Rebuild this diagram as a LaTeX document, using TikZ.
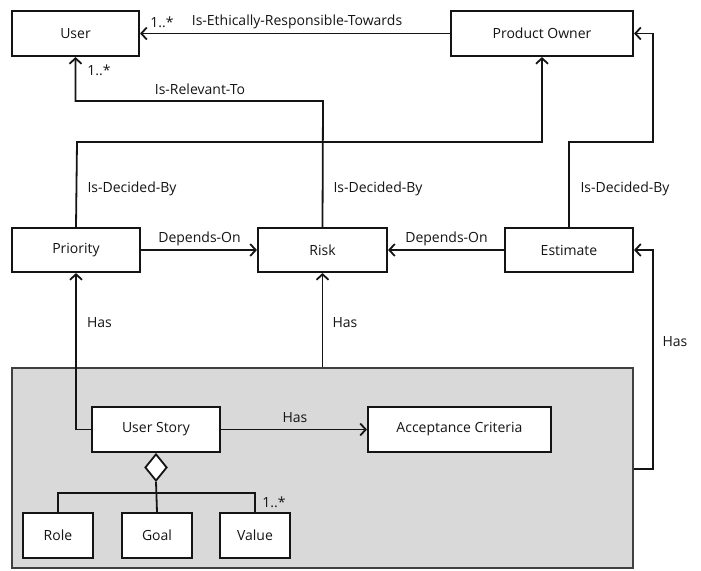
\documentclass[tikz,border=0pt]{standalone}
\usepackage{fontspec}
\setmainfont{Open Sans}
\usetikzlibrary{arrows.meta,shapes.geometric}
\begin{document}
\begin{tikzpicture}[x=1pt,y=-1pt,
  every node/.style={font=\fontsize{14}{16}\selectfont, text=black!92},
  cls/.style={draw=black!92, line width=2.1pt, fill=white, inner sep=0pt},
  conn/.style={draw=black!92, line width=1.8pt},
  arr/.style={conn, -{Straight Barb[length=5.5pt,width=12pt,line width=1.8pt]}},
  lbl/.style={inner sep=0pt}]
\useasboundingbox (0,0) rectangle (701,570);

% shaded package holding the user story parts
\node[draw=black!75, line width=2.1pt, fill=black!15, minimum width=621pt, minimum height=200pt, inner sep=0pt] (pkg) at (322.5,468) {};

% classes
\node[cls, minimum width=127pt, minimum height=45pt] (user) at (75.5,33.5) {User};
\node[cls, minimum width=182pt, minimum height=45pt] (po) at (542,33.5) {Product Owner};
\node[cls, minimum width=128pt, minimum height=44pt] (prio) at (76,250) {Priority};
\node[cls, minimum width=129pt, minimum height=44pt] (risk) at (322.5,250) {Risk};
\node[cls, minimum width=128pt, minimum height=44pt] (est) at (569,250) {Estimate};
\node[cls, minimum width=128pt, minimum height=45pt] (us) at (156,429.5) {User Story};
\node[cls, minimum width=183pt, minimum height=45pt] (ac) at (459.5,429.5) {Acceptance Criteria};
\node[cls, minimum width=70pt, minimum height=45pt] (role) at (58,535.5) {Role};
\node[cls, minimum width=70pt, minimum height=45pt] (goal) at (157,535.5) {Goal};
\node[cls, minimum width=70pt, minimum height=45pt] (value) at (255,535.5) {Value};

% aggregation diamond under the user story
\node[diamond, draw=black!92, line width=1.8pt, fill=white, inner sep=0pt,
      minimum width=22pt, minimum height=27pt, anchor=north] (dia) at (us.south) {};

% routing points
\coordinate (relturn) at (323,101);
\coordinate (prioturn) at (77,142);
\coordinate (estturn) at (653,142);
\coordinate (hasturn) at (653,469);
\coordinate (bar) at (157,493);

% associations
\draw[arr] (po.west) -- (user.east);
\draw[arr] (risk.north) -- (relturn) -| (user.south);
\draw[arr] (prio.north) -- (prioturn) -| (po.south);
\draw[arr] (est.north) |- (estturn) |- (po.east);
\draw[arr] (prio.east) -- (risk.west);
\draw[arr] (est.west) -- (risk.east);
\draw[arr] (risk.south |- pkg.north) -- (risk.south);
\draw[arr] (us.west) -| (prio.south);
\draw[arr] (pkg.east |- hasturn) -- (hasturn) |- (est.east);
\draw[arr] (us.east) -- (ac.west);

% composition of the story
\draw[conn] (dia.south) -- (goal.north);
\draw[conn] (role.north) |- (bar) -| (value.north);

% labels
\node[lbl] (l1) at (162,22) {1..*};
\node[lbl] (l2) at (297,22) {Is-Ethically-Responsible-Towards};
\node[lbl] (l3) at (99,70) {1..*};
\node[lbl] (l4) at (200,89) {Is-Relevant-To};
\node[lbl] (l5) at (132,189) {Is-Decided-By};
\node[lbl] (l6) at (378,189) {Is-Decided-By};
\node[lbl] (l7) at (625,189) {Is-Decided-By};
\node[lbl] (l8) at (199.5,239) {Depends-On};
\node[lbl] (l9) at (446.5,239) {Depends-On};
\node[lbl] (l10) at (99.5,322.5) {Has};
\node[lbl] (l11) at (345,322.5) {Has};
\node[lbl] (l12) at (675,341.5) {Has};
\node[lbl] (l13) at (295,418) {Has};
\node[lbl] (l14) at (274,502) {1..*};
\end{tikzpicture}
\end{document}
